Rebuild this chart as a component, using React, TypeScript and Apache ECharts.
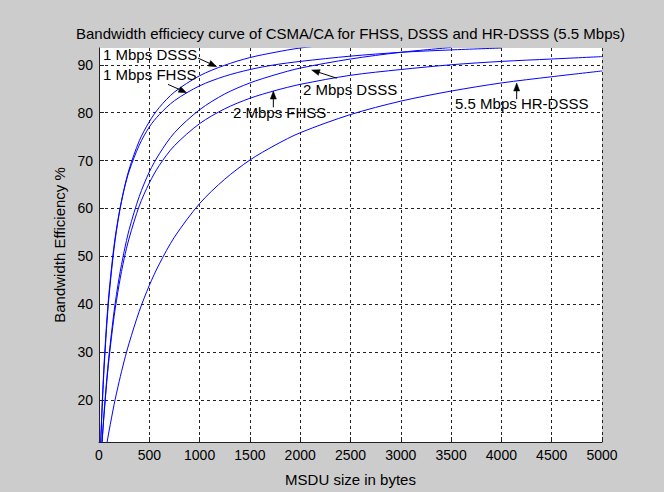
import React, { useEffect, useRef } from "react";
import * as echarts from "echarts";

// MSDU sizes (bytes) at which the curves were read
const msduSizes = [10, 20, 30, 40, 50, 75, 100, 150, 200, 250, 300, 400, 500, 600, 750, 1000, 1250, 1500, 1750, 2000, 2500, 3000, 3500, 4000, 4500, 5000];

// Bandwidth efficiency (%); null = curve not drawn there
const dsss1Mbps = [6.7, 12.5, 17.6, 22.2, 26.3, 34.9, 41.7, 51.7, 58.8, 64.1, 68.2, 74.1, 78.1, 81.1, 84.3, 87.7, 89.9, 91.5, 92.6, 93.5, 94.7, null, null, null, null, null];
const fhss1Mbps = [7.0, 13.1, 18.4, 23.1, 27.3, 35.8, 42.5, 52.3, 59.0, 64.0, 67.8, 73.2, 77.0, 79.6, 82.5, 85.6, 87.6, 89.0, 90.0, 90.7, 91.8, 92.6, 93.1, 93.5, null, null];
const dsss2Mbps = [4.0, 7.7, 11.1, 14.3, 17.2, 23.8, 29.4, 38.5, 45.5, 51.0, 55.6, 62.5, 67.6, 71.4, 75.8, 80.6, 83.9, 86.2, 87.9, 89.3, 91.2, 92.6, 93.6, null, null, null];
const fhss2Mbps = [3.9, 7.5, 10.9, 14.0, 16.8, 23.2, 28.7, 37.4, 44.1, 49.5, 53.8, 60.5, 65.3, 69.0, 73.1, 77.7, 80.8, 83.0, 84.6, 85.9, 87.8, 89.0, 90.0, 90.7, 91.2, 91.7];
const hrdsss55Mbps = [1.5, 3.0, 4.5, 5.9, 7.2, 10.5, 13.5, 19.0, 23.8, 28.1, 31.9, 38.5, 43.9, 48.4, 54.0, 61.0, 66.1, 70.1, 73.2, 75.8, 79.6, 82.4, 84.5, 86.2, 87.5, 88.7];

const seriesNames = ["1 Mbps DSSS", "1 Mbps FHSS", "2 Mbps DSSS", "2 Mbps FHSS", "5.5 Mbps HR-DSSS"];
const seriesValues = [dsss1Mbps, fhss1Mbps, dsss2Mbps, fhss2Mbps, hrdsss55Mbps];

const xTicks = { min: 0, max: 5000, step: 500 };
const yRange = { min: 11.2, max: 93.5 };

const titleText = "Bandwidth efficiecy curve of CSMA/CA for FHSS, DSSS and HR-DSSS (5.5 Mbps)";
const xName = "MSDU size in bytes";
const yName = "Bandwidth Efficiency %";

// text anchor (left, middle) and arrow from -> to, in data coordinates
const annotations = [
  { label: "1 Mbps DSSS", textAt: [40, 92.05], from: [984, 91.4], to: [1170, 89.6] },
  { label: "1 Mbps FHSS", textAt: [40, 87.9], from: [686, 85.9], to: [872, 84.15] },
  { label: "2 Mbps DSSS", textAt: [2028, 84.8], from: [2363, 87.2], to: [2114, 88.9] },
  { label: "2 Mbps FHSS", textAt: [1332, 80.1], from: [1733, 81.1], to: [1733, 84.5] },
  { label: "5.5 Mbps HR-DSSS", textAt: [3539, 81.9], from: [4152, 82.8], to: [4152, 86.2] },
];

const FONT = 'Arial, "Liberation Sans", Helvetica, sans-serif';
const GRID = { left: 99, top: 48, width: 503, height: 399 };

export default function App() {
  const ref = useRef<HTMLDivElement>(null);
  useEffect(() => {
    document.body.style.margin = "0";
    const chart = echarts.init(ref.current!, null, { renderer: "svg" });
    const dashed = { color: "#222", width: 1, type: [3, 3] as any };
    chart.setOption({
      animation: false,
      backgroundColor: "#cccccc",
      textStyle: { fontFamily: FONT },
      grid: { ...GRID, show: true, backgroundColor: "#ffffff", borderWidth: 0, containLabel: false },
      xAxis: {
        type: "value",
        min: xTicks.min,
        max: xTicks.max,
        interval: xTicks.step,
        axisLine: { show: true, lineStyle: { color: "#222", width: 1 } },
        axisTick: { show: true, inside: true, length: 5, lineStyle: { color: "#222" } },
        axisLabel: { color: "#000", fontSize: 14, fontFamily: FONT, margin: 6, formatter: (v: number) => String(v) },
        splitLine: { show: true, lineStyle: dashed },
        name: xName,
        nameLocation: "middle",
        nameGap: 30,
        nameTextStyle: { color: "#000", fontSize: 15, fontFamily: FONT },
      },
      yAxis: {
        type: "value",
        min: yRange.min,
        max: yRange.max,
        splitNumber: 8,
        axisLine: { show: true, lineStyle: { color: "#222", width: 1 } },
        axisTick: { show: true, inside: true, length: 5, lineStyle: { color: "#222" } },
        axisLabel: {
          color: "#000",
          fontSize: 14,
          fontFamily: FONT,
          margin: 6,
          showMinLabel: false,
          showMaxLabel: false,
          formatter: (v: number) => (Math.abs(v % 10) < 1e-6 ? String(v) : ""),
        },
        splitLine: { show: true, showMaxLine: false, showMinLine: false, lineStyle: dashed },
        name: yName,
        nameLocation: "middle",
        nameGap: 31,
        nameTextStyle: { color: "#000", fontSize: 15, fontFamily: FONT },
      },
      series: seriesNames.map((name, i) => ({
        name,
        type: "line",
        data: msduSizes.map((x, j) => [x, seriesValues[i][j]]),
        showSymbol: false,
        smooth: 0.3,
        clip: true,
        connectNulls: false,
        lineStyle: { color: "#0000ff", width: 1 },
        itemStyle: { color: "#0000ff" },
      })),
    });

    const px = (p: number[]) => chart.convertToPixel({ gridIndex: 0 }, p) as number[];
    const graphics: any[] = [
      {
        type: "text",
        x: GRID.left + GRID.width / 2,
        y: 33,
        style: { text: titleText, fill: "#000", font: `15px ${FONT}`, textAlign: "center", textVerticalAlign: "middle" },
        z: 100,
      },
    ];
    annotations.forEach((a) => {
      const t = px(a.textAt);
      const f = px(a.from);
      const to = px(a.to);
      graphics.push({
        type: "text",
        x: t[0],
        y: t[1],
        style: { text: a.label, fill: "#000", font: `15px ${FONT}`, textAlign: "left", textVerticalAlign: "middle" },
        z: 100,
      });
      const dx = to[0] - f[0];
      const dy = to[1] - f[1];
      const len = Math.sqrt(dx * dx + dy * dy) || 1;
      const ux = dx / len;
      const uy = dy / len;
      const hl = 8;
      const hw = 3;
      const bx = to[0] - ux * hl;
      const by = to[1] - uy * hl;
      graphics.push({
        type: "line",
        shape: { x1: f[0], y1: f[1], x2: bx, y2: by },
        style: { stroke: "#000", lineWidth: 1 },
        z: 100,
      });
      graphics.push({
        type: "polygon",
        shape: {
          points: [
            [to[0], to[1]],
            [bx - uy * hw, by + ux * hw],
            [bx + uy * hw, by - ux * hw],
          ],
        },
        style: { fill: "#000", stroke: "#000", lineWidth: 0.5 },
        z: 100,
      });
    });
    chart.setOption({ graphic: graphics });

    return () => chart.dispose();
  }, []);
  return <div ref={ref} style={{ width: 664, height: 492 }} />;
}
